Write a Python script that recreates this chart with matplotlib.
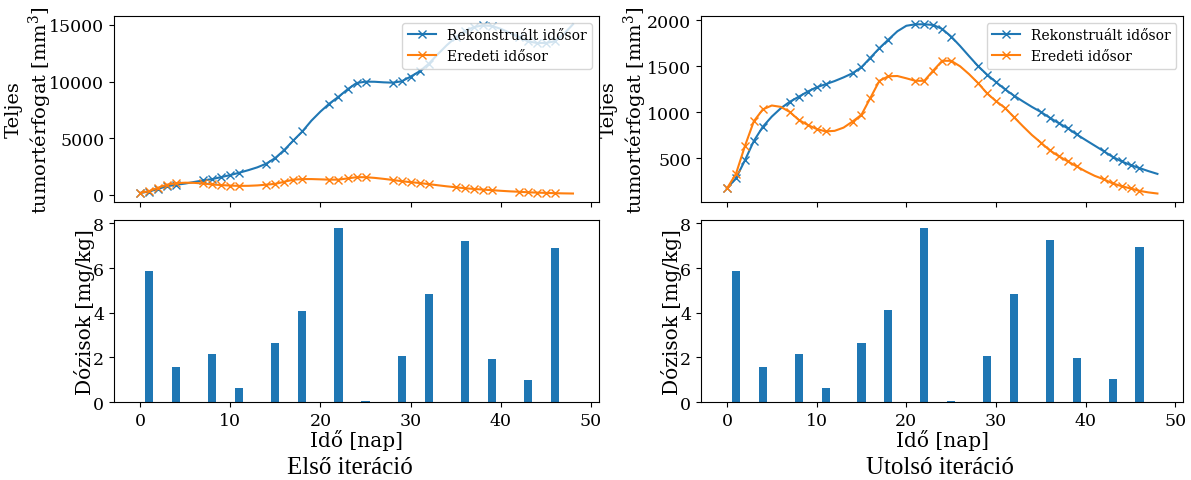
import numpy as np
import matplotlib
matplotlib.use('Agg')
import matplotlib.pyplot as plt

plt.rcParams['font.family'] = 'DejaVu Serif'
plt.rcParams['mathtext.fontset'] = 'dejavuserif'

# days 0..48
days = list(range(49))
meas_days = [0, 1, 2, 3, 4, 7, 8, 9, 10, 11, 14, 15, 16, 17, 18, 21, 22, 23, 24, 25,
             28, 29, 30, 31, 32, 35, 36, 37, 38, 39, 42, 43, 44, 45, 46]

eredeti = [175, 333, 635, 905, 1033, 1075, 1060, 1005, 919, 864, 820, 794, 800, 835,
           901, 975, 1159, 1343, 1392, 1395, 1370, 1343, 1343, 1454, 1560, 1560, 1500,
           1415, 1318, 1207, 1122, 1049, 949, 850, 755, 673, 588, 525, 469, 414, 360,
           312, 275, 230, 200, 175, 149, 132, 120]

rek_first = [170, 296, 533, 770, 889, 1000, 1140, 1274, 1393, 1571, 1749, 1956, 2180,
             2430, 2756, 3260, 3971, 4802, 5602, 6550, 7350, 8062, 8655, 9307, 9870,
             9988, 9980, 9930, 9899, 10018, 10433, 10907, 11559, 12400, 13200, 13900,
             14450, 14800, 14950, 14900, 14650, 14300, 13900, 13550, 13400, 13400,
             13550, 14200, 15050]

rek_last = [175, 286, 480, 691, 845, 955, 1045, 1115, 1170, 1226, 1273, 1306, 1340,
            1380, 1425, 1491, 1594, 1698, 1790, 1880, 1940, 1956, 1956, 1949, 1905,
            1823, 1720, 1610, 1502, 1410, 1329, 1251, 1182, 1120, 1060, 1005, 942, 883,
            828, 761, 700, 640, 580, 518, 469, 429, 396, 363, 333]

dose_days = [1, 4, 8, 11, 15, 18, 22, 25, 29, 32, 36, 39, 43, 46]
dose_first = [5.85, 1.57, 2.15, 0.63, 2.65, 4.07, 7.77, 0.05, 2.05, 4.83, 7.2, 1.93, 0.98, 6.88]
dose_last = [5.85, 1.57, 2.15, 0.62, 2.65, 4.12, 7.77, 0.05, 2.05, 4.83, 7.25, 1.97, 1.03, 6.93]


def draw(ax1, ax2, rek, dose_vals, caption, cx, lab_x):
    ax1.plot(days, rek, color='tab:blue', marker='x', markevery=meas_days,
             lw=1.5, ms=6, label='Rekonstruált idősor')
    ax1.plot(days, eredeti, color='tab:orange', marker='x', markevery=meas_days,
             lw=1.5, ms=6, label='Eredeti idősor')
    ax1.set_ylabel('Teljes\ntumortérfogat [mm$^3$]', fontsize=14)
    ax1.yaxis.set_label_coords(lab_x, 0.5)
    ax1.legend(loc='upper right', fontsize=10)
    ax1.tick_params(labelsize=12.5, labelbottom=False)

    daily = np.zeros(len(days))
    daily[dose_days] = dose_vals
    ax2.bar(days, daily, width=0.9, color='tab:blue')
    ax2.set_ylabel('Dózisok [mg/kg]', fontsize=14.5, labelpad=-1)
    ax2.set_xlabel('Idő [nap]', fontsize=14.5, labelpad=0)
    ax2.tick_params(labelsize=12.5)
    ax1.set_xlim(ax2.get_xlim())
    ax2.set_xticks([0, 10, 20, 30, 40, 50])
    ax1.set_xticks([0, 10, 20, 30, 40, 50])
    fig.text(cx, 0.028, caption, ha='center', va='center', fontsize=18,
             family='Liberation Serif')


fig = plt.figure(figsize=(11.91, 4.81), dpi=100)
a1 = fig.add_axes([0.0957, 0.578, 0.4073, 0.387])
a2 = fig.add_axes([0.0957, 0.162, 0.4073, 0.379])
b1 = fig.add_axes([0.5886, 0.578, 0.4050, 0.387])
b2 = fig.add_axes([0.5886, 0.162, 0.4050, 0.379])

draw(a1, a2, rek_first, dose_first, 'Első iteráció', 0.294, -0.124)
draw(b1, b2, rek_last, dose_last, 'Utolsó iteráció', 0.789, -0.108)

fig.savefig('out.png', dpi=100)
